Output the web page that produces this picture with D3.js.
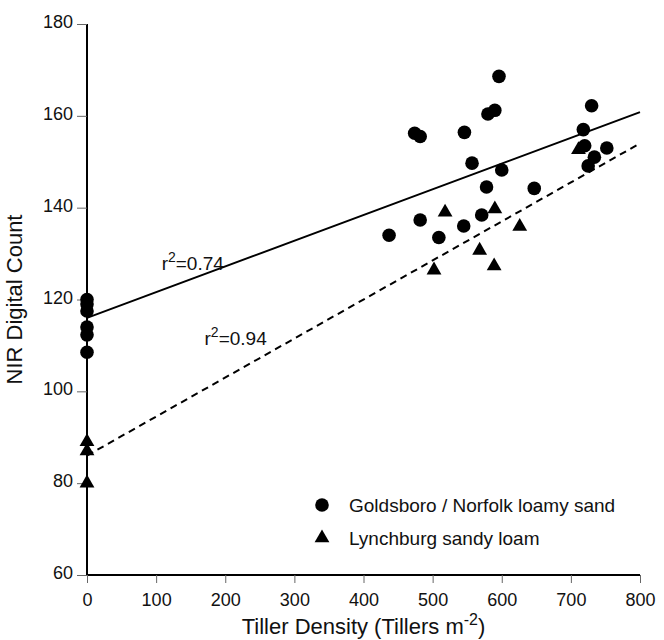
<!DOCTYPE html>
<html>
<head>
<meta charset="utf-8">
<script src="https://cdn.jsdelivr.net/npm/d3@7"></script>
<style>
  body { margin: 0; background: #fff; }
  text { font-family: "Liberation Sans", Arial, sans-serif; fill: #111; }
</style>
</head>
<body>
<script>

// tiller density (x) vs NIR digital count (y)
var goldsboroX = [0, 0, 0, 0, 0, 0,
                  437, 474, 482, 482, 509, 545, 546, 557, 571, 578, 580, 590, 596, 600, 647,
                  718, 720, 725, 734, 730, 752];
var goldsboroY = [120, 119, 117.5, 114, 112.3, 108.5,
                  134, 156.2, 155.5, 137.3, 133.5, 136, 156.4, 149.7, 138.4, 144.5, 160.4, 161.2, 168.6, 148.2, 144.2,
                  157, 153.5, 149.1, 151, 162.2, 153];

var lynchburgX = [0, 0, 0, 502, 518, 568, 589, 590, 626, 711];
var lynchburgY = [89, 87, 80, 126.4, 139, 130.7, 127.3, 139.7, 135.9, 152.6];

// regression lines: [intercept, slope]
var fitGoldsboro = [116, 0.056];
var fitLynchburg = [86, 0.085];

var xTicks = [0, 100, 200, 300, 400, 500, 600, 700, 800];
var yTicks = [60, 80, 100, 120, 140, 160, 180];

var width = 664,
    height = 640,
    margin = {top: 24, right: 24, bottom: 65, left: 87};

var svg = d3.select("body").append("svg")
    .attr("width", width)
    .attr("height", height);

var x = d3.scaleLinear()
    .domain([0, 800])
    .range([margin.left, width - margin.right]);

var y = d3.scaleLinear()
    .domain([60, 180])
    .range([height - margin.bottom, margin.top]);

// axes
var xAxis = svg.append("g")
    .attr("transform", "translate(0," + y(60) + ")")
    .call(d3.axisBottom(x).tickValues(xTicks).tickSize(8).tickPadding(10));

var yAxis = svg.append("g")
    .attr("transform", "translate(" + x(0) + ",0)")
    .call(d3.axisLeft(y).tickValues(yTicks).tickSize(10).tickPadding(4));

[xAxis, yAxis].forEach(function(g) {
  g.select(".domain").attr("stroke", "#000").attr("stroke-width", 2)
      .attr("d", g === xAxis
        ? "M" + x(0) + ",0H" + x(800)
        : "M0," + y(180) + "V" + y(60));
  g.selectAll(".tick line").attr("stroke", "#666").attr("stroke-width", 1);
  g.selectAll(".tick text").style("font-size", "18px").attr("fill", "#111");
});
yAxis.selectAll(".tick text").attr("dy", "0.2em");

// axis titles
var xTitle = svg.append("text")
    .attr("x", (x(0) + x(800)) / 2)
    .attr("y", 634)
    .attr("text-anchor", "middle")
    .style("font-size", "22px")
    .text("Tiller Density (Tillers m");
xTitle.append("tspan")
    .attr("dy", -9)
    .style("font-size", "16px")
    .text("-2");
xTitle.append("tspan")
    .attr("dy", 9)
    .text(")");

svg.append("text")
    .attr("transform", "translate(22," + y(120) + ") rotate(-90)")
    .attr("text-anchor", "middle")
    .style("font-size", "22px")
    .text("NIR Digital Count");

// regression lines
function fitLine(fit) {
  return [[0, fit[0]], [800, fit[0] + fit[1] * 800]];
}
var line = d3.line()
    .x(function(d) { return x(d[0]); })
    .y(function(d) { return y(d[1]); });

svg.append("path")
    .attr("d", line(fitLine(fitGoldsboro)))
    .attr("fill", "none")
    .attr("stroke", "#000")
    .attr("stroke-width", 2);

svg.append("path")
    .attr("d", line(fitLine(fitLynchburg)))
    .attr("fill", "none")
    .attr("stroke", "#000")
    .attr("stroke-width", 2)
    .attr("stroke-dasharray", "7,5");

// points
var circle = d3.symbol().type(d3.symbolCircle).size(145);
var triangle = d3.symbol().type(d3.symbolTriangle).size(95);

svg.append("g").selectAll("path")
    .data(d3.range(lynchburgX.length))
  .enter().append("path")
    .attr("d", triangle)
    .attr("transform", function(i) { return "translate(" + x(lynchburgX[i]) + "," + y(lynchburgY[i]) + ")"; })
    .attr("fill", "#000");

svg.append("g").selectAll("path")
    .data(d3.range(goldsboroX.length))
  .enter().append("path")
    .attr("d", circle)
    .attr("transform", function(i) { return "translate(" + x(goldsboroX[i]) + "," + y(goldsboroY[i]) + ")"; })
    .attr("fill", "#000");

// r-squared labels
function rLabel(xv, yv, value) {
  var t = svg.append("text")
      .attr("x", x(xv))
      .attr("y", y(yv))
      .style("font-size", "19px")
      .text("r");
  t.append("tspan").attr("dy", -8).style("font-size", "14px").text("2");
  t.append("tspan").attr("dy", 8).text("=" + value);
}
rLabel(108, 126.5, "0.74");
rLabel(170, 110, "0.94");

// legend
var legend = svg.append("g")
    .attr("transform", "translate(322,505)");

legend.append("path")
    .attr("d", circle)
    .attr("fill", "#000");
legend.append("text")
    .attr("x", 27)
    .attr("y", 7)
    .style("font-size", "19px")
    .text("Goldsboro / Norfolk loamy sand");

legend.append("path")
    .attr("d", triangle)
    .attr("transform", "translate(0,33)")
    .attr("fill", "#000");
legend.append("text")
    .attr("x", 27)
    .attr("y", 40)
    .style("font-size", "19px")
    .text("Lynchburg sandy loam");

</script>
</body>
</html>
